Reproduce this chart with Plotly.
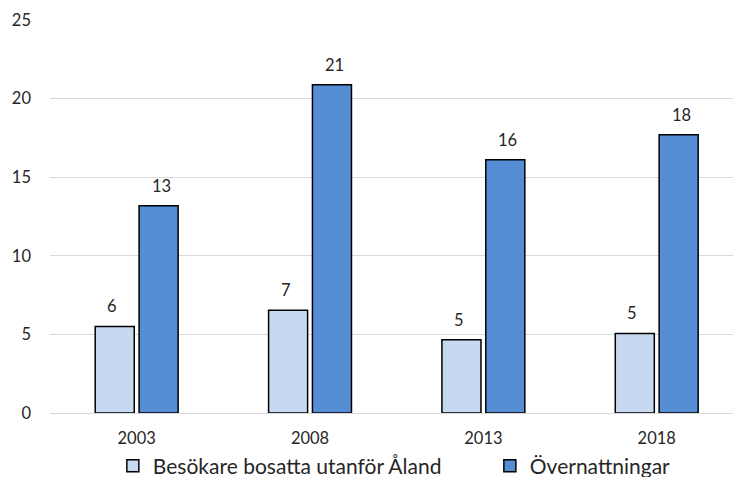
import plotly.graph_objects as go

years = ["2003", "2008", "2013", "2018"]
besokare = [5.51, 6.53, 4.66, 5.06]
overnattningar = [13.19, 20.88, 16.11, 17.70]
y_ticks = [0, 5, 10, 15, 20, 25]

FONT = "Lato"
fs = 16.5
lfs = 21
txtcol = "#262626"

fig = go.Figure()
fig.add_trace(go.Bar(
    x=years, y=besokare, name="Besökare bosatta utanför Åland",
    marker=dict(color="#C6D9F1", line=dict(color="#000000", width=1.5)),
    legend="legend",
))
fig.add_trace(go.Bar(
    x=years, y=overnattningar, name="Övernattningar",
    marker=dict(color="#558ED5", line=dict(color="#000000", width=1.5)),
    legend="legend2",
))

# data labels above each bar (rounded values), placed via the axes
bar_offset_px = 24.4
for series, shift in ((besokare, -bar_offset_px), (overnattningar, bar_offset_px)):
    for i, v in enumerate(series):
        fig.add_annotation(
            x=i, y=v, xref="x", yref="y", text=f"{v:.0f}", showarrow=False,
            xanchor="center", yanchor="bottom", xshift=shift, yshift=8,
            font=dict(family=FONT, size=fs, color=txtcol),
        )

legend_common = dict(
    orientation="h", yanchor="middle", y=-0.135, xanchor="left",
    font=dict(family=FONT, size=lfs, color=txtcol),
    bgcolor="rgba(0,0,0,0)", borderwidth=0,
)

fig.update_layout(
    width=733, height=477,
    margin=dict(l=50, r=0, t=20, b=64, autoexpand=False),
    paper_bgcolor="white", plot_bgcolor="white",
    barmode="group", bargap=0.494, bargroupgap=0.11,
    font=dict(family=FONT, size=fs, color=txtcol),
    showlegend=True,
    legend=dict(x=0.092, **legend_common),
    legend2=dict(x=0.644, **legend_common),
)
fig.update_xaxes(
    type="category",
    range=[-0.5, 3.44], showgrid=False, showline=True, linecolor="#D9D9D9", linewidth=1,
    ticks="", ticklabelstandoff=10, automargin=False,
    tickfont=dict(family=FONT, size=fs, color=txtcol),
)
fig.update_yaxes(
    range=[0, 25], tickvals=y_ticks, showgrid=True, gridcolor="#D9D9D9", gridwidth=1,
    zeroline=False, showline=False, ticks="", ticklabelstandoff=18, automargin=False,
    tickfont=dict(family=FONT, size=fs, color=txtcol),
)

fig.write_html(
    "out.html",
    config={"displayModeBar": False},
    post_script="document.body.style.margin='0px';",
)
